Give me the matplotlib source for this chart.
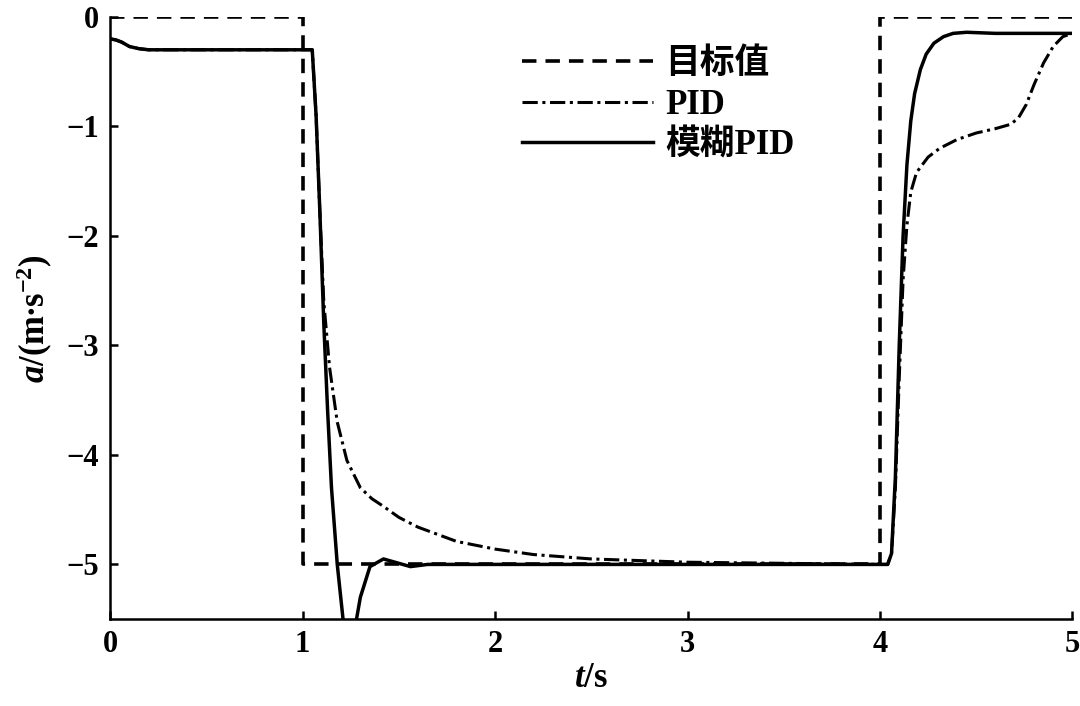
import numpy as np
import matplotlib
matplotlib.use("Agg")
import matplotlib.pyplot as plt

# target step
t_target = [0, 1, 1, 4, 4, 5]
a_target = [0, 0, -5, -5, 0, 0]

# fuzzy PID response
t_fuzzy = [0, 0.03, 0.06, 0.1, 0.15, 0.2, 1.0, 1.05, 1.07, 1.09, 1.11, 1.13, 1.15, 1.18,
           1.21, 1.24, 1.27, 1.30, 1.35, 1.42, 1.5, 1.56, 1.65, 2.0, 3.0, 4.0, 4.04,
           4.06, 4.08, 4.10, 4.12, 4.14, 4.16, 4.18, 4.21, 4.24, 4.28, 4.33, 4.38, 4.45,
           4.6, 4.8, 5.0]
a_fuzzy = [-0.2, -0.21, -0.23, -0.27, -0.29, -0.3, -0.3, -0.3, -0.9, -1.8, -2.8, -3.6, -4.3, -5.0,
           -5.5, -5.8, -5.6, -5.3, -5.02, -4.95, -4.99, -5.02, -5.0, -5.0, -5.0, -5.0, -5.0,
           -4.9, -4.2, -3.0, -2.0, -1.35, -0.95, -0.7, -0.48, -0.34, -0.24, -0.18, -0.15, -0.14,
           -0.15, -0.15, -0.15]

# conventional PID response
t_pid = [0, 0.03, 0.06, 0.1, 0.15, 0.2, 1.0, 1.05, 1.07, 1.09, 1.11, 1.14, 1.18, 1.23, 1.3,
         1.36, 1.42, 1.5, 1.6, 1.8, 2.0, 2.2, 2.5, 3.0, 3.5, 4.0, 4.04, 4.06, 4.08,
         4.10, 4.12, 4.14, 4.16, 4.19, 4.25, 4.31, 4.4, 4.5, 4.6, 4.68, 4.72, 4.76, 4.8,
         4.85, 4.9, 4.95, 5.0]
a_pid = [-0.2, -0.21, -0.23, -0.27, -0.29, -0.3, -0.3, -0.3, -0.9, -1.8, -2.6, -3.2, -3.7, -4.05,
         -4.3, -4.4, -4.47, -4.57, -4.66, -4.79, -4.86, -4.91, -4.95, -4.98, -4.99, -5.0, -5.0,
         -4.9, -4.3, -3.3, -2.4, -1.9, -1.6, -1.42, -1.28, -1.2, -1.12, -1.06, -1.02, -0.98,
         -0.92, -0.8, -0.62, -0.42, -0.27, -0.18, -0.15]

plt.rcParams['font.family'] = ['Liberation Serif', 'Noto Sans CJK SC']
plt.rcParams['font.weight'] = 'bold'
plt.rcParams['mathtext.fontset'] = 'custom'
plt.rcParams['mathtext.it'] = 'Liberation Serif:italic:bold'
plt.rcParams['mathtext.rm'] = 'Liberation Serif:bold'

fig, ax = plt.subplots(figsize=(10.8, 7.06), dpi=100)
fig.subplots_adjust(left=0.102, right=0.993, top=0.976, bottom=0.123)

ax.plot(t_target, a_target, color='black', lw=2.6, ls=(0, (4, 2.5)), label='目标值')
ax.plot(t_pid, a_pid, color='black', lw=2.2, ls=(0, (5, 1.5, 1, 1.5)), label='PID')
ax.plot(t_fuzzy, a_fuzzy, color='black', lw=2.5, label='模糊PID')

ax.set_xlim(0, 5)
ax.set_ylim(-5.5, 0)
ax.set_xticks([0, 1, 2, 3, 4, 5])
ax.set_yticks([0, -1, -2, -3, -4, -5])
ax.set_yticklabels(['0', '−1', '−2', '−3', '−4', '−5'])
ax.spines['top'].set_visible(False)
ax.spines['right'].set_visible(False)
for s in ('left', 'bottom'):
    ax.spines[s].set_linewidth(1.8)
ax.tick_params(direction='in', length=6, width=1.8, labelsize=22, pad=8)

ax.set_xlabel(r'$t$/s', fontsize=25, fontweight='bold', labelpad=2)
ax.set_ylabel(r'$a$/(m$\bullet$s$^{\mathrm{-2}}$)', fontsize=25, fontweight='bold', labelpad=8)

ax.legend(loc='upper left', bbox_to_anchor=(0.395, 1.0), frameon=False,
          handlelength=3.8, labelspacing=0.22, handletextpad=0.35,
          prop={'family': ['Liberation Serif', 'Noto Sans CJK SC'], 'weight': 'bold', 'size': 25})

fig.savefig('out.png', dpi=100)
